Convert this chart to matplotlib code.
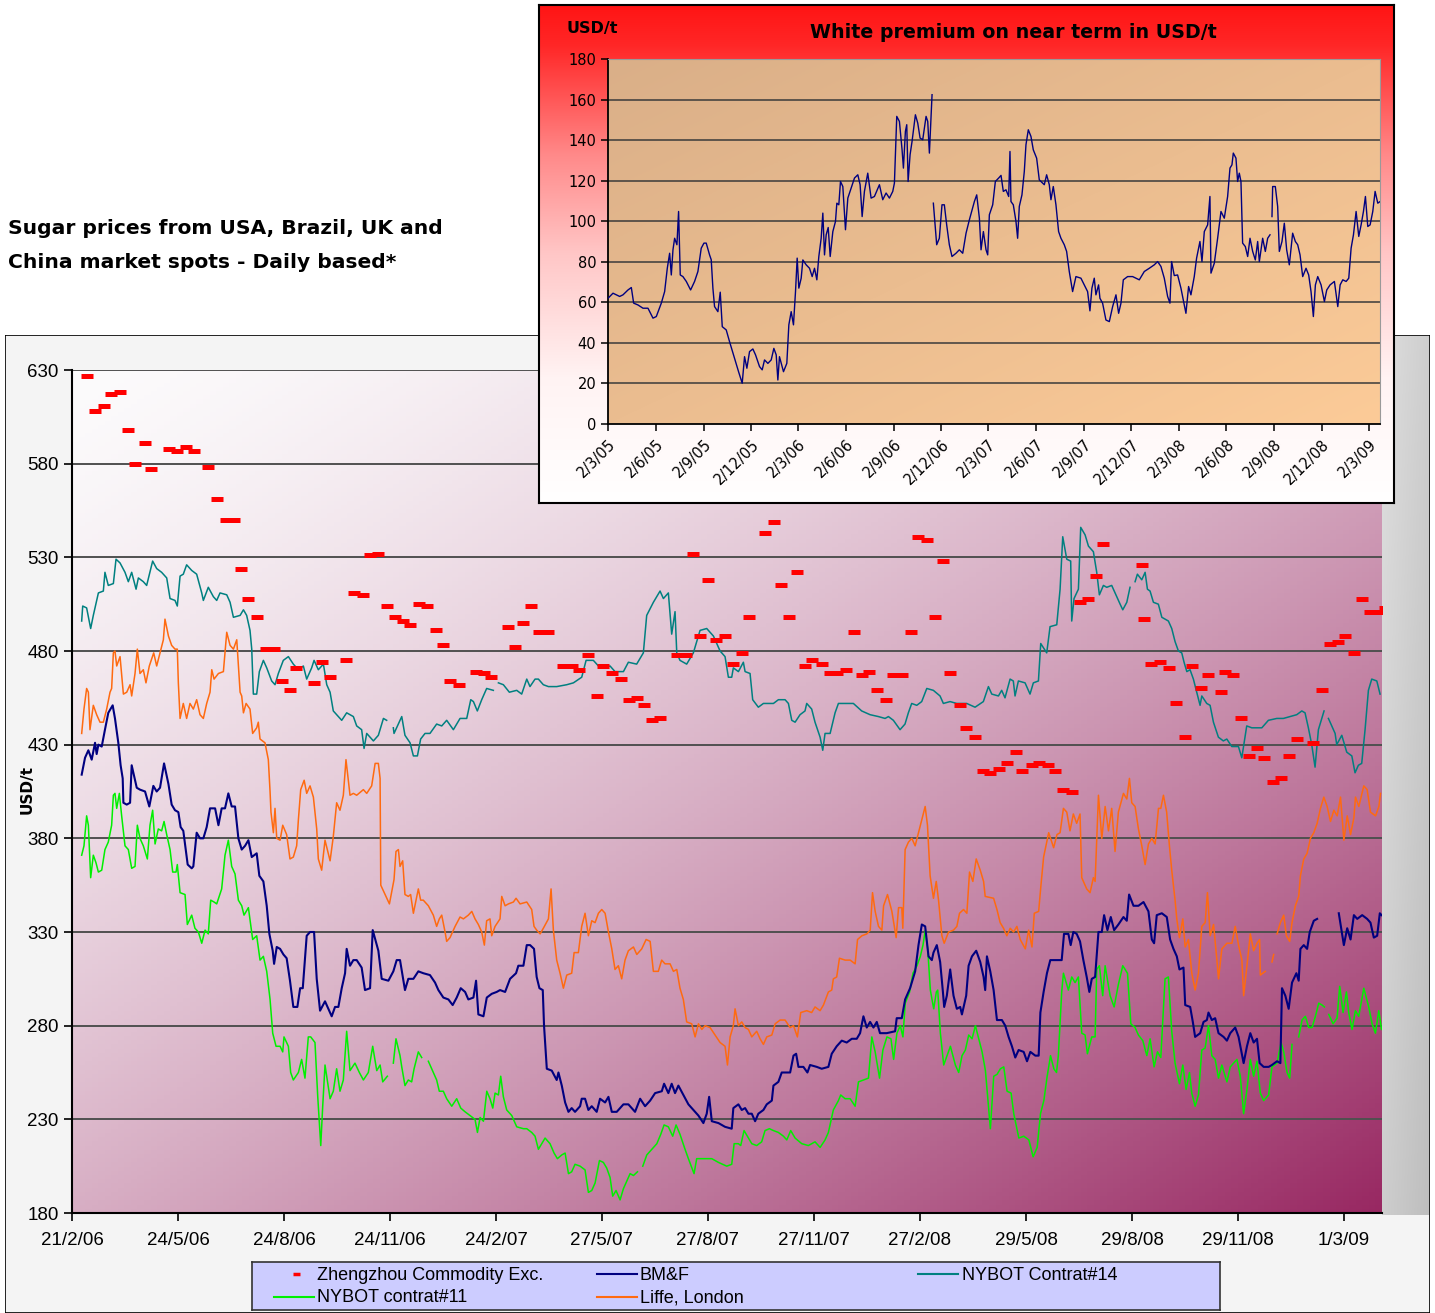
import numpy as np
import matplotlib
matplotlib.use("Agg")
import matplotlib.pyplot as plt
from matplotlib.patches import Rectangle
from datetime import date

nan = float("nan")
W, H = 1435, 1313

# ---------------- main chart data (x = days since 21/2/06, y = USD/t) ----------------
main_tick_labels = ["21/2/06", "24/5/06", "24/8/06", "24/11/06", "24/2/07", "27/5/07", "27/8/07",
                    "27/11/07", "27/2/08", "29/5/08", "29/8/08", "29/11/08", "1/3/09"]
y_ticks = [180, 230, 280, 330, 380, 430, 480, 530, 580, 630]

zhengzhou = [(13, 627), (20, 608), (27.5, 611), (34, 617), (41.7, 618), (49, 598), (55, 580), (63, 591),
             (69, 577), (84, 588), (91, 587), (99, 589), (106, 587), (118, 578), (126, 561), (134, 550),
             (140.6, 550), (147, 524), (153, 508), (161, 498), (168, 481), (175.6, 481), (182, 464),
             (189, 459), (194.7, 471), (210, 463), (217, 474), (224, 466), (238, 475), (244.5, 511),
             (253, 510), (258.7, 531), (266, 532), (273, 504), (280.4, 498), (287, 496), (293.4, 494),
             (301.5, 505), (308, 504), (316, 491), (321.7, 483), (328.4, 464), (336, 462), (350.7, 469),
             (358, 468), (364, 466), (378.4, 493), (384.5, 482), (391.8, 495), (398.7, 504), (405.6, 490),
             (413, 490), (426.5, 472), (433.7, 472), (440.4, 470), (447.6, 478), (455.4, 456), (461.2, 472),
             (468.4, 468), (476.5, 465), (483.8, 454), (490.1, 455), (496.5, 451), (503.7, 443), (510.4, 444),
             (525.4, 478), (533, 478), (539, 532), (545.1, 488), (552.3, 518), (559, 486), (566.8, 488),
             (574, 473), (581.3, 479), (587.6, 498), (601.5, 543), (609.3, 549), (615.1, 515), (622.4, 498),
             (629, 522), (636.2, 472), (642, 475), (651.3, 473), (658, 468), (664.3, 468), (671.6, 470),
             (679, 490), (685.4, 467), (692.1, 469), (699, 459), (706.3, 454), (712.9, 467), (720.2, 467),
             (728, 490), (734.1, 541), (741.9, 539), (749.1, 498), (756, 528), (761.8, 468), (770.5, 451),
             (775.7, 439), (784.1, 434), (791, 416), (797.1, 415), (804.9, 417), (811.9, 420), (819.1, 426),
             (824.9, 416), (833, 419), (839.6, 420), (847.4, 419), (853.3, 416), (860.5, 406), (867.7, 405),
             (875, 506), (881.6, 508), (888.5, 520), (894.6, 537), (928.8, 526), (930.8, 497), (936.9, 473),
             (944.4, 474), (951.9, 471), (958.6, 452), (965.8, 434), (972.4, 472), (980, 460), (986.3, 467),
             (997.6, 458), (1000.8, 469), (1007.5, 467), (1014.7, 444), (1021.6, 424), (1028.6, 428),
             (1034.4, 423), (1042.5, 410), (1049.7, 412), (1056.4, 424), (1063.6, 433), (1077.5, 431),
             (1084.7, 459), (1091.9, 484), (1098.9, 485), (1105.3, 488), (1112.5, 479), (1119.4, 508),
             (1126.7, 501), (1133.9, 501), (1139.7, 503)]

bmf = [(8.4, 414), (11.3, 423), (14.2, 427), (17.1, 422), (20, 431), (21.4, 425), (22.9, 430), (25.8, 429),
       (28.6, 438), (31.5, 447), (35.3, 451), (37.3, 444), (40.2, 431), (42.2, 419), (44, 412), (44.6, 399),
       (47.5, 398), (50.4, 399), (51.8, 419), (56.2, 407), (59, 406), (63.4, 405), (67.1, 397), (70.6, 408),
       (73.5, 405), (76.4, 407), (79.9, 420), (83.7, 409), (86.5, 398), (89.4, 395), (92.3, 394), (94.3, 386),
       (96.6, 384), (100.4, 366), (103.9, 364), (105.3, 365), (108.2, 383), (111.1, 380), (114, 380),
       (116.9, 386), (119.8, 396), (124.2, 396), (127.1, 387), (129.9, 396), (132.8, 396), (135.7, 404),
       (138.6, 397), (141.5, 397), (144.4, 380), (147.3, 374), (150.2, 376), (153.1, 379), (156, 370),
       (160.3, 372), (162.6, 360), (166.1, 357), (169, 344), (171.3, 329), (174.2, 320), (175.4, 313),
       (177.7, 322), (180.6, 321), (183.5, 318), (186.3, 316), (189.2, 304), (192.1, 290), (195.6, 290),
       (198, 300), (200.3, 300), (203.7, 328), (206.6, 330), (210.1, 330), (212.4, 305), (215.3, 288),
       (219.6, 293), (222.5, 289), (225.4, 285), (228.3, 290), (231.2, 290), (234.1, 300), (237, 308),
       (238.4, 321), (241.3, 312), (244.2, 315), (247.1, 315), (251.4, 311), (254.3, 299), (258.7, 300),
       (261, 331), (265.9, 320), (268.8, 305), (274.6, 304), (278.9, 309), (281.8, 315), (284.7, 315),
       (289, 299), (291.9, 305), (296.3, 305), (300.6, 309), (304.9, 308), (310.7, 307), (315.1, 303),
       (318, 299), (322.3, 295), (326.7, 294), (330.4, 291), (333.9, 295), (337.4, 300), (341.2, 298),
       (344, 294), (348.4, 295), (350.7, 304), (352.7, 286), (357.1, 285), (360, 295), (364.3, 297),
       (368.6, 298), (371.5, 299), (375.9, 298), (380.2, 305), (385.4, 308), (387.4, 312), (391.8, 312),
       (394.7, 323), (397.6, 323), (401, 321), (403.3, 306), (405.7, 300), (408.6, 299), (409.7, 280),
       (412.1, 257), (416.4, 256), (420.7, 251), (422.2, 255), (425.1, 248), (428, 239), (430.9, 234),
       (433.7, 236), (436.6, 234), (441, 237), (442.4, 241), (445.3, 241), (448.2, 235), (451.1, 237),
       (455.4, 234), (458.3, 241), (462.7, 239), (465.6, 242), (468.5, 234), (472.8, 234), (478.6, 238),
       (482.9, 238), (488.7, 234), (493.1, 241), (497.4, 237), (501.8, 240), (506.1, 244), (511.9, 245),
       (513.9, 249), (517.6, 244), (520.5, 249), (523.4, 244), (526.3, 248), (530.6, 243), (535, 238),
       (539.3, 235), (543.7, 232), (548, 228), (550.9, 233), (553, 242), (555.3, 229), (561.1, 228),
       (566.8, 226), (572.6, 225), (574, 236), (578.4, 238), (581.3, 235), (584.2, 236), (587.1, 233),
       (590, 233), (592.9, 229), (595.7, 233), (600.1, 235), (603, 238), (607.4, 240), (608.8, 248),
       (613.1, 250), (616, 255), (623.3, 255), (626.2, 264), (628.5, 265), (630.5, 258), (634.8, 258),
       (638.3, 255), (640.6, 259), (646.4, 258), (650.7, 257), (656.5, 258), (659.4, 265), (663.7, 269),
       (668.1, 272), (672.4, 271), (676.8, 273), (681.1, 273), (684, 276), (686.9, 285), (689.8, 279),
       (692.7, 282), (695.6, 279), (698.5, 282), (701.3, 276), (707.1, 276), (714.4, 277), (715.8, 284),
       (720.2, 284), (723.1, 294), (727.4, 300), (731.8, 309), (734.7, 323), (737.6, 334), (740.5, 333),
       (743.4, 317), (746.3, 315), (747.7, 319), (750.6, 323), (753.5, 314), (755.9, 298), (757, 290),
       (759.3, 296), (762.2, 310), (765.1, 296), (768, 289), (770.9, 290), (772.4, 286), (776.1, 296),
       (778.2, 312), (781.1, 317), (784.8, 320), (788.3, 314), (791.2, 306), (792.6, 299), (794.1, 317),
       (797, 309), (799.9, 299), (802.8, 283), (807.1, 283), (810, 280), (812.9, 274), (815.8, 269),
       (818.7, 263), (821.6, 267), (826, 266), (828.9, 261), (831.8, 266), (836.1, 264), (839, 264),
       (840.5, 287), (843.3, 298), (846.2, 308), (849.1, 315), (853.5, 315), (859, 315), (861, 329),
       (864.8, 329), (866.8, 323), (869.1, 330), (872, 329), (874.9, 325), (877.8, 315), (880.7, 306),
       (883, 298), (885.1, 305), (888, 306), (890.9, 330), (893.8, 330), (895.8, 339), (898.7, 331),
       (901.6, 338), (904.5, 331), (908.2, 334), (912.6, 338), (915.5, 336), (917.5, 350), (921.3, 344),
       (925.6, 344), (930, 346), (934.3, 341), (937.2, 326), (939.2, 324), (941.5, 339), (945.9, 340),
       (950.2, 338), (953.1, 326), (956, 321), (958.9, 317), (961.2, 310), (964.7, 311), (966.2, 291),
       (970.5, 290), (972.8, 282), (974.8, 274), (979.2, 276), (982.1, 282), (985, 283), (986.4, 287),
       (989.3, 283), (992.2, 284), (995.1, 276), (999.5, 274), (1002.4, 272), (1005.3, 276), (1009.6, 279),
       (1012.5, 274), (1016.9, 260), (1019.8, 269), (1022.7, 276), (1025.6, 271), (1028.5, 273),
       (1030.8, 260), (1034.3, 258), (1038.6, 258), (1041.5, 259), (1045.9, 261), (1048.8, 260),
       (1050.2, 300), (1053.1, 296), (1056, 289), (1058.9, 303), (1062.7, 308), (1064.7, 304), (1066.2, 321),
       (1069.1, 323), (1072, 321), (1074.3, 330), (1077.8, 336), (1080.7, 337), (1090, nan), (1099.5, 340),
       (1103.9, 323), (1106.8, 332), (1109.7, 326), (1112.6, 339), (1115.5, 337), (1119.8, 339),
       (1124.1, 337), (1127, 335), (1129.9, 327), (1132.8, 328), (1135.1, 340), (1136.6, 339)]

nybot14 = [(8.4, 496), (9.3, 504), (12.7, 503), (16.2, 492), (18.5, 499), (22.9, 511), (27.2, 512),
           (28.6, 522), (31.5, 515), (35.9, 516), (38.2, 529), (41.7, 527), (46, 522), (48.9, 517),
           (51.8, 522), (55.6, 513), (57.6, 519), (61.9, 517), (64.8, 515), (70, 528), (73.5, 524),
           (77.8, 522), (82.2, 519), (85.1, 508), (89.4, 507), (91.4, 504), (93.8, 520), (96.6, 521),
           (99.5, 526), (103.9, 523), (108.2, 521), (112.6, 511), (114, 507), (118.3, 514), (122.7, 509),
           (125.6, 507), (128.5, 511), (134.3, 510), (137.2, 506), (140.1, 498), (145.9, 499), (148.8, 502),
           (151.6, 499), (154.5, 491), (156, 481), (157.4, 457), (160.3, 457), (162.6, 469), (166.1, 475),
           (169, 471), (173.3, 464), (176.2, 462), (179.1, 468), (183.4, 475), (187.8, 477), (192.1, 473),
           (196.5, 470), (200.8, 472), (203.7, 465), (208, 471), (210.1, 475), (213.8, 470), (218.2, 473),
           (221.1, 462), (224, 458), (226.8, 448), (231.2, 445), (234.1, 443), (238.4, 447), (244.2, 445),
           (247.1, 440), (251.4, 438), (253.5, 428), (255.8, 436), (261.6, 432), (265.9, 435), (270.3, 444),
           (273.1, 443), (276, nan), (278.9, 439), (279.5, 436), (286.2, 445), (289, 435), (293.4, 431),
           (296.3, 424), (299.8, 424), (302.6, 433), (306.4, 436), (310.7, 436), (316.5, 441), (320.9, 440),
           (325.2, 443), (331, 438), (336.8, 444), (342.6, 444), (346.1, 454), (348.4, 453), (351.8, 448),
           (355.6, 454), (359.9, 460), (365.7, 459), (368, nan), (370.1, 463), (374.4, 462), (379.6, 458),
           (386, 459), (390.3, 457), (394.7, 465), (397.5, 461), (401.9, 465), (404.8, 465), (409.1, 462),
           (413.5, 461), (420.7, 461), (429.4, 462), (435.2, 463), (442.4, 466), (446.2, 475), (452.5, 475),
           (456.9, 472), (461.2, 471), (467, 472), (471.3, 469), (478.6, 469), (482.9, 474), (490.1, 473),
           (495.9, 479), (498.8, 499), (504.6, 506), (510.4, 512), (513.3, 508), (517.6, 511), (520.5, 489),
           (523.4, 501), (524.9, 479), (527.7, 475), (533.5, 473), (539.3, 479), (545.1, 491), (550.9, 492),
           (556.7, 488), (562.5, 480), (566.8, 477), (569.7, 466), (572.6, 466), (574, 471), (578.4, 469),
           (582.7, 474), (584.2, 469), (588.5, 468), (590.8, 454), (595.7, 450), (600.1, 452), (604.4, 452),
           (608.8, 452), (613.1, 454), (618.9, 454), (621.8, 452), (624.7, 443), (627.6, 442), (631.9, 446),
           (636.2, 448), (637.7, 452), (642, 449), (644.9, 442), (649.3, 434), (651.6, 427), (653.6, 436),
           (658, 436), (662.3, 447), (665.2, 452), (671, 452), (678.2, 452), (685.4, 448), (692.7, 446),
           (699.9, 445), (705.7, 444), (708.6, 445), (712.9, 443), (718.7, 438), (723, 441), (725.9, 447),
           (728.8, 452), (733.2, 451), (737.5, 453), (741.9, 460), (747.6, 459), (753.4, 456), (756.3, 452),
           (762.1, 453), (767.9, 452), (776.6, 452), (783.8, 450), (791, 453), (795.4, 461), (798.3, 457),
           (804.1, 456), (806.9, 459), (809.8, 455), (814.2, 465), (817, 464), (818.5, 456), (821.4, 464),
           (827.2, 463), (831.5, 457), (834.4, 463), (838.8, 464), (840.8, 484), (846, 479), (848.9, 493),
           (854.7, 494), (857.6, 513), (859.9, 541), (863.4, 529), (866.8, 528), (867.7, 496), (869.7, 508),
           (873.5, 513), (875.5, 546), (879.3, 542), (882.2, 536), (886.5, 533), (889.4, 522), (891.7, 510),
           (895.2, 515), (898.1, 514), (902.4, 515), (905.3, 511), (909.7, 505), (912, 502), (915.5, 506),
           (918.3, 514), (920.5, nan), (922.7, 517), (924.7, 521), (928.5, 518), (931.4, 522), (933.4, 513),
           (935.7, 512), (938.6, 506), (942.9, 505), (945.9, 498), (948.7, 497), (951.6, 496), (954.5, 492),
           (957.4, 485), (960.3, 480), (963.2, 479), (965.2, 474), (967.6, 469), (970.4, 470), (973.3, 465),
           (976.2, 458), (979.1, 451), (980.6, 456), (984.9, 452), (987.8, 451), (990.7, 442), (995, 434),
           (999.3, 432), (1002.3, 433), (1006.6, 429), (1012.4, 429), (1015.3, 423), (1019.6, 440),
           (1024, 439), (1032.7, 439), (1038.4, 443), (1045.7, 444), (1051.4, 444), (1057.2, 445),
           (1063, 446), (1067.4, 448), (1070.2, 447), (1073.1, 439), (1076, 430), (1078.9, 418),
           (1081.8, 438), (1084.7, 444), (1086.7, 448), (1088.5, nan), (1090.5, 444), (1096.3, 436),
           (1097.7, 430), (1102.1, 435), (1106.4, 426), (1110.8, 424), (1113.6, 415), (1116.5, 419),
           (1119.4, 420), (1122.3, 438), (1125.2, 459), (1128.1, 465), (1132.5, 464), (1135.3, 457)]

nybot11 = [(8.4, 371), (10.4, 376), (12.7, 392), (14.2, 387), (16.2, 359), (18.5, 371), (20.8, 367),
           (22.9, 362), (25.8, 363), (28.6, 374), (31.5, 378), (34.4, 387), (35.9, 403), (37.3, 404),
           (38.8, 396), (41.1, 404), (43.1, 392), (46, 376), (48.9, 374), (51.8, 364), (54.7, 365),
           (56.7, 387), (59, 380), (61.9, 376), (65.4, 369), (67.7, 387), (70, 395), (72.1, 377), (74.9, 385),
           (77.8, 384), (79.9, 389), (82.2, 382), (85.1, 374), (87.4, 362), (90.3, 362), (91.4, 366),
           (93.8, 351), (98.1, 350), (100.1, 334), (103.9, 339), (106.7, 332), (109.7, 330), (112.6, 324),
           (115.5, 331), (118.3, 329), (120.4, 347), (123.3, 346), (125.6, 345), (129.9, 353), (132.8, 371),
           (135.7, 379), (138.6, 365), (141.5, 361), (144.4, 347), (147.3, 344), (149.3, 339), (153.1, 343),
           (156.8, 326), (160.3, 328), (163.2, 315), (166.1, 317), (169, 309), (171.9, 294), (174.2, 276),
           (177.1, 269), (180.6, 269), (182.9, 266), (184, 274), (187.8, 269), (189.8, 255), (192.1, 251),
           (196.5, 255), (199.3, 262), (202.2, 252), (205.1, 274), (207.2, 274), (210.9, 271), (213.3, 242),
           (215.9, 216), (217.6, 237), (219.6, 259), (224, 241), (226.8, 245), (229.7, 257), (232.6, 245),
           (235.5, 251), (238.4, 277), (241.3, 256), (245.6, 260), (249.4, 255), (252.9, 251), (257.2, 255),
           (261, 269), (264.5, 256), (267.4, 259), (269.7, 250), (273.7, 253), (276, nan), (278.9, 260),
           (281.2, 273), (284.7, 264), (286.2, 258), (289, 248), (291.9, 251), (294.8, 250), (296.9, 257),
           (300.6, 266), (303.5, 263), (305.5, nan), (309.3, 261), (313.6, 255), (316.5, 251), (318.8, 245),
           (322.3, 245), (325.2, 241), (329.6, 237), (333.9, 241), (337.4, 236), (341.2, 234), (345.5, 232),
           (349.8, 230), (351.9, 223), (354.2, 231), (357.1, 229), (360, 245), (362.8, 241), (365.2, 236),
           (367.2, 244), (370.1, 243), (372.1, 253), (374.4, 242), (377.3, 235), (381.7, 232), (386, 226),
           (391.8, 225), (394.7, 225), (399, 223), (401.9, 221), (404.8, 214), (407.7, 217), (410.6, 220),
           (414.9, 217), (418.4, 212), (421.3, 209), (425.1, 211), (428, 212), (430.9, 201), (433.7, 202),
           (436.6, 206), (441, 205), (445.3, 203), (448.2, 191), (451.1, 192), (454, 196), (457.8, 208),
           (461.2, 207), (464.1, 204), (467, 199), (469.3, 189), (472.2, 192), (475.7, 187), (478.6, 193),
           (481.5, 197), (484.4, 201), (487.3, 200), (490.8, 202), (492.5, nan), (495.4, 205), (498.9, 211),
           (503.2, 214), (507.6, 217), (511, 222), (513.9, 227), (517.6, 226), (521.4, 221), (524.3, 227),
           (527.7, 222), (532.1, 214), (535, 209), (539.9, 201), (542.2, 209), (546.6, 209), (550.9, 209),
           (555.3, 209), (561.1, 207), (568.3, 205), (572.6, 206), (574.7, 217), (578.4, 217), (580.4, 216),
           (583.3, 224), (587.1, 220), (590, 217), (594.3, 216), (598.6, 218), (601.5, 224), (605.3, 225),
           (608.8, 224), (613.1, 223), (617.5, 221), (620.4, 219), (623.8, 224), (627.6, 220), (633.4, 217),
           (639.1, 216), (644.9, 218), (649.3, 215), (653.6, 219), (656.5, 223), (660.8, 235), (665.2, 240),
           (667.2, 243), (671, 241), (675.4, 241), (679.7, 237), (682.6, 250), (687, 251), (691.3, 252),
           (694.2, 274), (697.1, 266), (700.9, 252), (703.8, 267), (707.3, 274), (710.8, 273), (713.1, 262),
           (716, 276), (718.9, 280), (721.2, 274), (723.2, 292), (727, 298), (729.9, 308), (733.4, 312),
           (736.3, 317), (738.6, 323), (740.6, 331), (742.7, 321), (745, 299), (747.9, 289), (750.2, 298),
           (751.4, 299), (753.7, 276), (756.6, 259), (759.5, 264), (762.4, 269), (766.7, 259), (769.6, 255),
           (772.5, 264), (775.4, 267), (778.3, 275), (781.2, 273), (784.1, 280), (787, 273), (789.9, 266),
           (792.8, 256), (797.1, 225), (800, 253), (802.9, 254), (805.8, 257), (808.7, 258), (811.6, 245),
           (815.1, 244), (817.4, 233), (821.8, 220), (826.1, 221), (830.5, 219), (834.2, 210), (837.7, 215),
           (840.6, 233), (843.5, 240), (846.4, 253), (849.3, 264), (852.2, 257), (854.5, 255), (856.1, 264),
           (859, 298), (860.5, 308), (864.8, 299), (867.7, 306), (870.6, 303), (873.5, 306), (876.4, 276),
           (879.3, 275), (881.3, 265), (885.1, 274), (888, 274), (889.4, 310), (891.7, 312), (894.6, 296),
           (896.7, 312), (901, 296), (904.5, 290), (908.2, 302), (912, 312), (916.1, 308), (919, 281),
           (922.7, 279), (925.6, 275), (929.4, 272), (932.9, 264), (935.7, 273), (939.2, 258), (942.1, 266),
           (945, 263), (948.7, 305), (951.6, 306), (954.5, 277), (957.4, 260), (961.2, 249), (964.1, 259),
           (967, 246), (969.9, 255), (971.9, 244), (974.8, 237), (977.7, 243), (980.6, 267), (983.5, 268),
           (986.4, 280), (989.3, 264), (992.2, 262), (995.1, 252), (998, 259), (1002.4, 250), (1005.3, 258),
           (1008.2, 260), (1011.1, 262), (1014, 253), (1016.9, 233), (1019.8, 246), (1022.7, 262), (1025.6, 253),
           (1028.5, 261), (1031.4, 244), (1034.3, 240), (1038.6, 243), (1041.5, 258), (1045.9, 260),
           (1049.4, 271), (1051.7, 266), (1054.6, 255), (1056.9, 252), (1058.9, 270), (1061.5, nan),
           (1064.7, 274), (1067.6, 283), (1070.5, 285), (1073.4, 279), (1076.3, 279), (1079.2, 285),
           (1082.1, 292), (1085, 291), (1087, 290), (1088.5, nan), (1090.8, 286), (1094.5, 281), (1098, 284),
           (1100.3, 301), (1103.2, 287), (1106.1, 298), (1108.1, 287), (1111, 278), (1113.9, 288), (1116.8, 285),
           (1121.2, 300), (1125.5, 290), (1128.4, 281), (1131.3, 276), (1134.2, 288), (1136.6, 278)]

liffe = [(8.4, 436), (10.4, 449), (12.7, 460), (14.2, 458), (15.6, 438), (18.5, 451), (21.4, 446), (24.3, 442),
         (27.2, 442), (30.1, 449), (33, 458), (34.4, 460), (35.9, 479), (37.3, 480), (38.8, 472), (41.7, 477),
         (44.6, 457), (47.5, 458), (50.4, 462), (51.8, 456), (54.7, 468), (56.7, 481), (59, 468), (61.9, 470),
         (64.2, 463), (67.1, 472), (70.9, 479), (73.5, 472), (76.4, 479), (79.3, 486), (80.7, 497), (83.7, 488),
         (86.5, 483), (89.4, 481), (91.4, 481), (92.3, 463), (93.8, 444), (96.6, 452), (99.5, 444), (102.4, 452),
         (105.3, 449), (108.2, 454), (111.1, 446), (114, 444), (116.9, 452), (119.8, 458), (121.3, 470),
         (123.3, 465), (127.1, 468), (131.4, 469), (134.3, 490), (137.2, 483), (140.1, 481), (143, 486),
         (145.9, 458), (147.3, 456), (148.8, 447), (151.1, 452), (154.5, 449), (156.8, 436), (160.3, 439),
         (161.7, 442), (163.2, 433), (167.5, 431), (170.4, 422), (171.9, 405), (172.7, 394), (174.8, 383),
         (176.2, 396), (177.7, 380), (180.6, 379), (182.9, 387), (186.3, 382), (189.2, 369), (192.1, 370),
         (195, 376), (196.5, 390), (198.5, 406), (201.5, 411), (203.7, 404), (206.6, 408), (209.5, 402),
         (212.4, 385), (213.8, 369), (216.7, 363), (219.6, 379), (224, 368), (226.8, 381), (229.7, 399),
         (232.6, 395), (235.5, 403), (237.8, 422), (241.3, 403), (244.2, 404), (247.1, 403), (252.9, 406),
         (255.8, 404), (260.1, 408), (263.1, 420), (265.9, 420), (267.4, 412), (268, 355), (271.7, 350),
         (275.5, 345), (279.5, 358), (281.2, 373), (283.3, 374), (284.7, 365), (287, 368), (289, 350),
         (291.9, 349), (293.9, 350), (296.3, 340), (298.6, 347), (300.6, 353), (302.6, 347), (304.9, 347),
         (309.3, 344), (313.6, 339), (316.5, 333), (318.8, 337), (320.9, 339), (323.8, 330), (325.2, 325),
         (328.1, 327), (332.5, 333), (336.8, 338), (339.7, 337), (344, 339), (347, 341), (349.8, 337),
         (352.7, 334), (355.6, 330), (357.9, 323), (359.9, 336), (362.8, 337), (364.3, 328), (367.2, 333),
         (371.5, 337), (373, 349), (375.9, 344), (378.8, 345), (383.1, 346), (385.4, 348), (388.9, 345),
         (394.7, 346), (399, 342), (401, 333), (403.3, 331), (406.3, 329), (409.1, 332), (413.5, 337),
         (415.8, 353), (417.8, 331), (420.7, 315), (423.6, 308), (426.5, 300), (429.4, 307), (433.7, 308),
         (435.8, 319), (439.5, 319), (442.4, 333), (445.3, 340), (448.2, 328), (451.1, 336), (454, 335),
         (456.9, 340), (459.8, 342), (462.7, 340), (465.6, 330), (468.5, 321), (471.3, 310), (474.2, 312),
         (477.1, 305), (480, 315), (482.9, 320), (487.3, 322), (490.2, 318), (494.5, 321), (498.3, 326),
         (501.8, 325), (504.6, 309), (508.9, 309), (511.8, 315), (514.7, 313), (519.1, 313), (522, 309),
         (524.9, 310), (527.7, 300), (530.6, 294), (533.5, 282), (537.9, 281), (540.8, 274), (543.7, 281),
         (546.6, 278), (549.5, 280), (553.8, 279), (558.1, 275), (562.5, 271), (566.8, 269), (568.9, 259),
         (571.2, 274), (574, 280), (575.5, 289), (578.4, 280), (581.3, 282), (584.2, 279), (587.1, 278),
         (590, 274), (594.3, 277), (597.2, 273), (600.1, 270), (603, 274), (607.4, 275), (610.3, 281),
         (614.6, 283), (618.9, 283), (623.3, 279), (626.2, 280), (629.6, 274), (632.5, 287), (637.7, 288),
         (642, 287), (644.9, 290), (649.3, 288), (652.2, 291), (656.5, 298), (659.4, 299), (660.8, 305),
         (663.7, 306), (666.1, 316), (671, 315), (675.4, 315), (679.7, 313), (681.8, 326), (685.6, 328),
         (689.9, 329), (692.8, 331), (694.8, 351), (697.1, 341), (700, 333), (702.9, 331), (704.4, 344),
         (707.8, 350), (711.6, 341), (715.3, 327), (717.4, 343), (720.2, 343), (721.1, 332), (723.1, 374),
         (726, 378), (728.9, 380), (731.8, 376), (734.7, 383), (737.6, 390), (740.5, 397), (742.5, 387),
         (744.8, 360), (747.7, 348), (750.1, 357), (752.1, 347), (755, 328), (757, 324), (760.8, 330),
         (765.1, 331), (768, 333), (770.3, 340), (773.8, 342), (776.7, 340), (779, 362), (781.9, 357),
         (784.8, 369), (788.3, 363), (791.2, 357), (792.6, 349), (799.9, 348), (802.8, 342), (805.6, 335),
         (808.5, 332), (811.4, 328), (814.3, 332), (817.2, 330), (820.1, 333), (823, 326), (827.4, 321),
         (830.3, 331), (833.2, 322), (835.2, 340), (839, 341), (841, 355), (843.3, 370), (847.7, 383),
         (852, 375), (854.9, 382), (857.6, 383), (860.5, 396), (863.4, 394), (866.2, 384), (869.1, 393),
         (872, 388), (874.9, 393), (876.4, 359), (880.7, 353), (883.6, 351), (886.5, 359), (888, 357),
         (890.9, 403), (893.8, 380), (896.7, 397), (899.6, 384), (902.4, 396), (905.3, 373), (908.2, 394),
         (912.6, 404), (915.5, 401), (917.8, 412), (919.8, 399), (922.7, 397), (925.6, 385), (928.5, 376),
         (931.4, 366), (934.3, 377), (937.2, 380), (940.1, 377), (943, 396), (945, 396), (947.3, 403),
         (950.1, 394), (952.5, 376), (954.5, 363), (957.4, 347), (958.9, 337), (961.2, 327), (964.1, 337),
         (966.2, 322), (969, 326), (971.9, 308), (974.8, 299), (977.7, 308), (980.6, 333), (983.5, 335),
         (985.5, 351), (987.9, 328), (990.8, 334), (993.7, 315), (995.1, 305), (998, 321), (1002.4, 324),
         (1006.7, 324), (1009.6, 333), (1012.5, 323), (1015.4, 315), (1016.9, 296), (1019.8, 312),
         (1022.7, 329), (1025.6, 320), (1028.5, 324), (1030.8, 326), (1031.4, 307), (1035.7, 309),
         (1038, nan), (1041.5, 314), (1043, 318), (1045, nan), (1045.9, 329), (1048.8, 335), (1051.7, 339),
         (1054, 328), (1056.9, 325), (1058.9, 335), (1061.8, 344), (1064.7, 349), (1066.2, 360), (1069.1, 369),
         (1072, 372), (1074.9, 380), (1077.8, 383), (1080.7, 388), (1083.6, 396), (1086.5, 402), (1089.4, 397),
         (1092.3, 389), (1095.2, 395), (1098.1, 392), (1101, 402), (1103.9, 379), (1106.8, 392), (1109.7, 382),
         (1112.6, 391), (1114, 402), (1116.9, 397), (1121.2, 408), (1124.1, 406), (1127, 394), (1131.4, 392),
         (1134.3, 397), (1135.7, 404)]

# ---------------- inset data (x = days since 2/3/05, y = USD/t) ----------------
inset_tick_dates = [(2005, 3), (2005, 6), (2005, 9), (2005, 12), (2006, 3), (2006, 6), (2006, 9), (2006, 12),
                    (2007, 3), (2007, 6), (2007, 9), (2007, 12), (2008, 3), (2008, 6), (2008, 9), (2008, 12),
                    (2009, 3)]
inset_y_ticks = [0, 20, 40, 60, 80, 100, 120, 140, 160, 180]

white_premium = [
    (0, 62), (9.6, 64.5), (22.4, 62.9), (28.8, 63.7), (38.4, 66.1), (44.8, 67.3), (49.3, 59.6), (57.6, 58.7),
    (67.2, 57.1), (76.8, 57.1), (86.4, 52.2), (92.8, 53), (102.4, 59.6), (108.8, 65.3), (113.9, 76.8),
    (118.4, 84.2), (121.6, 73.5), (124.8, 85.9), (128, 91.6), (132.4, 88.4), (135.6, 104.8), (138.8, 73.5),
    (143.9, 72.7), (150.4, 70.3), (158.7, 66.1), (166.3, 70.3), (172.7, 75.2), (179.1, 86.7), (184.3, 89.2),
    (188.7, 89.2), (195.1, 83.4), (198.3, 81), (201.5, 67), (204.7, 57.9), (211.1, 55.4), (215.6, 65),
    (219.5, 48), (227.1, 46.4), (233.5, 40.6), (243.1, 32.4), (250.8, 25.8), (257.8, 20.1), (262.3, 33.2),
    (266.8, 27.5), (271.9, 35.7), (278.3, 37), (283.4, 34.1), (291.1, 28.3), (296.2, 26.7), (300.7, 31.6),
    (307.1, 29.9), (313.5, 31.6), (318.6, 37.3), (323.1, 34.1), (326.3, 21.7), (329.4, 33.2), (337.1, 25.8),
    (343.5, 29.9), (347.4, 48.9), (351.9, 55.4), (356.3, 48.9), (360.2, 65.3), (363.4, 81.8), (366.6, 67),
    (371.1, 71.9), (374.3, 80.9), (380.7, 78.5), (387.1, 76.8), (392.2, 72.7), (396.7, 76.8), (401.2, 71.1),
    (405, 82.6), (409.5, 91.6), (412.7, 104), (415.9, 83.4), (419.1, 93.3), (423, 96.9), (426.8, 82.6),
    (431.9, 94.9), (437, 99.9), (439.6, 108.9), (443.4, 108.1), (446.6, 119.6), (451.1, 117.1), (456.2, 95.8),
    (460.7, 111.4), (467.1, 116.3), (473.5, 121.3), (479.9, 122.9), (484.3, 118), (488.2, 102.3),
    (492.6, 114.7), (499, 123.7), (505.4, 111.4), (511.8, 112.2), (521.4, 118), (527.8, 110.6), (534.2, 113.9),
    (540.6, 111.4), (547, 114.7), (550.2, 118.8), (554.7, 151.7), (559.8, 149.2), (564.9, 135.2),
    (567.5, 126.2), (571.3, 144.3), (573.9, 147.6), (576.5, 119.6), (580.3, 132.8), (584.1, 139.4),
    (590.5, 152.5), (595, 148.4), (599.5, 141), (604.6, 140.2), (611, 151.7), (614.2, 149.2), (617.4, 133.6),
    (622.5, 162.4), (623.5, nan), (625, 108.9), (631.4, 88.4), (636.5, 91.6), (641.6, 108.1), (646.1, 108.1),
    (650.6, 98.2), (655.7, 88.4), (660.8, 82.6), (668.5, 84.2), (674.9, 85.9), (681.4, 84.2), (687.8, 94.1),
    (694.2, 100.7), (703.8, 109.7), (708.3, 113), (713.4, 101.5), (716.6, 85.9), (721.1, 94.9), (726.2, 85.9),
    (729.4, 83.4), (732.6, 103.2), (739, 108.1), (744.1, 119.6), (750.5, 121.3), (755, 122.6), (759.4, 114.7),
    (764.5, 115.5), (769.7, 112.2), (772.2, 134.4), (774.1, 109.7), (778.6, 108.1), (783.7, 99.9),
    (786.9, 91.6), (790.1, 107.3), (795.2, 113), (799.7, 124.5), (802.9, 137.7), (807.4, 145.1),
    (812.5, 141.8), (817, 135.2), (823.4, 131.1), (828.5, 120.4), (838.1, 118), (842.6, 122.9), (847.7, 118),
    (850.9, 110.6), (855.4, 117.1), (860.5, 108.1), (865.6, 94.9), (870.1, 91.6), (876.5, 88.4), (881, 85.1),
    (886.1, 75.2), (892.5, 65.3), (898.9, 72.7), (908.5, 71.9), (914.9, 68.6), (921.3, 65.3), (925.8, 55.8),
    (929.6, 67), (934.1, 71.9), (937.3, 63.7), (942.4, 68.6), (945, 62), (950.1, 59.6), (956.5, 51.3),
    (963, 50.5), (969.4, 57.9), (975.8, 63.7), (980.9, 54.6), (985.4, 59.6), (989.9, 71.1), (998.2, 72.7),
    (1007.8, 72.7), (1020.6, 71.1), (1030.2, 75.2), (1039.8, 76.8), (1049.4, 78.5), (1055.8, 80.1),
    (1062.2, 77.7), (1068.6, 71.9), (1075, 62.9), (1079.5, 59.6), (1082.7, 80.1), (1087.8, 73.2),
    (1094.2, 73.5), (1100.6, 67), (1105.1, 61.2), (1110.2, 54.6), (1115.3, 67.8), (1119.8, 63.7),
    (1126.2, 72.7), (1130.7, 81.8), (1137.1, 90), (1141, 80.1), (1145.5, 94.9), (1151.9, 98.2),
    (1156.3, 112.2), (1158.3, 74.4), (1164.7, 79.3), (1171.1, 91.6), (1177.5, 104.8), (1183.9, 101.5),
    (1190.3, 112.2), (1194.8, 126.2), (1198.6, 127.8), (1201.2, 133.6), (1206.3, 131.1), (1209.5, 119.6),
    (1212.7, 123.7), (1215.9, 119.6), (1219.1, 89.2), (1224.3, 87.5), (1228.8, 82.6), (1233.3, 91.6),
    (1238.4, 85.1), (1243.5, 80.9), (1248, 90), (1251.2, 80.1), (1257.6, 91.6), (1262.7, 85.1),
    (1267.2, 91.6), (1271.7, 93.3), (1273.5, nan), (1275.5, 102.3), (1276.8, 117.1), (1281.9, 117.1),
    (1286.4, 107.3), (1289.6, 85.1), (1294.7, 90), (1299.2, 99), (1303.7, 85.9), (1308.8, 78.5),
    (1315.2, 94.1), (1320.4, 90), (1324.9, 88.4), (1329.4, 83.4), (1334.5, 72.7), (1340.9, 76.8),
    (1346, 73.5), (1350.5, 65.3), (1355, 53), (1358.9, 68.6), (1363.4, 72.7), (1369.8, 68.6), (1376.2, 60.4),
    (1380.7, 66.1), (1387.1, 68.6), (1395.4, 70.3), (1401.9, 57.9), (1406.4, 68.6), (1411.5, 71.1),
    (1417.9, 70.3), (1423, 71.9), (1427.5, 86.7), (1432, 93.3), (1437.1, 104.8), (1442.2, 92.5),
    (1446.7, 98.2), (1451.2, 104.8), (1455, 112.2), (1459.5, 97.4), (1464, 98.2), (1469.1, 104.8),
    (1473.6, 114.7), (1478.7, 108.9), (1483.2, 109.7)]


def fx(px):
    return px / W


def fy(py):
    return 1 - py / H


def gradient(c0, c1, mode="diag", power=1.0, n=200):
    u = np.linspace(0, 1, n)
    uu, vv = np.meshgrid(u, u)
    if mode == "diag":
        t = (uu + vv) / 2
    else:
        t = vv
    t = t ** power
    c0 = np.array(c0) / 255.0
    c1 = np.array(c1) / 255.0
    return c0 + (c1 - c0) * t[..., None]


fig = plt.figure(figsize=(W / 100, H / 100), dpi=100)
fig.patch.set_facecolor("white")

# chart area of main chart
bg = fig.add_axes([fx(5), 0, fx(1430) - fx(5), fy(335)], zorder=0)
bg.set_axis_off()
bg.add_patch(Rectangle((0, 0), 1, 1, transform=bg.transAxes, facecolor="#f4f4f4",
                       edgecolor="black", linewidth=1.2))
strip = fig.add_axes([fx(1382), fy(1215), fx(1429) - fx(1382), fy(336) - fy(1215)], zorder=0.5)
strip.set_axis_off()
strip.imshow(gradient((222, 222, 222), (190, 190, 190), mode="diag"), extent=[0, 1, 0, 1],
             aspect="auto", transform=strip.transAxes)

# plot area gradient
pos = [fx(72), fy(1213), fx(1382) - fx(72), fy(370) - fy(1213)]
pbg = fig.add_axes(pos, zorder=1)
pbg.set_axis_off()
pbg.imshow(gradient((252, 251, 252), (152, 40, 98), power=1.45), extent=[0, 1, 0, 1],
           aspect="auto", transform=pbg.transAxes)

ax = fig.add_axes(pos, zorder=2)
ax.patch.set_alpha(0)
for v in y_ticks[1:]:
    ax.axhline(v, color="#505050", lw=1.4, zorder=1)

lw_thin = 1.1
d, v = zip(*liffe)
ax.plot(d, v, color="#ff6a10", lw=lw_thin, zorder=3)
d, v = zip(*nybot11)
ax.plot(d, v, color="#00f000", lw=lw_thin, zorder=3)
d, v = zip(*bmf)
ax.plot(d, v, color="#000080", lw=1.5, zorder=4)
d, v = zip(*nybot14)
ax.plot(d, v, color="#008080", lw=lw_thin, zorder=3)
d, v = zip(*zhengzhou)
ax.plot(d, v, ls="none", marker="_", ms=9, mew=3.6, color="#ff0000", zorder=5)

ax.set_xlim(0, 1137)
ax.set_ylim(180, 630)
ax.set_yticks(y_ticks)
ax.set_xticks([92 * i for i in range(len(main_tick_labels))])
ax.set_xticklabels(main_tick_labels)
for s in ["top", "right"]:
    ax.spines[s].set_visible(False)
for s in ["left", "bottom"]:
    ax.spines[s].set_linewidth(1.5)
ax.tick_params(axis="both", direction="out", length=6, width=1.2, labelsize=13.5)
ax.tick_params(axis="x", pad=8)
for lab in ax.get_xticklabels() + ax.get_yticklabels():
    lab.set_fontfamily("Liberation Sans")

fig.text(fx(27), fy(790), "USD/t", rotation=90, ha="center", va="center",
         fontsize=11, fontweight="bold", family="DejaVu Sans")
fig.text(fx(8), fy(229), "Sugar prices from USA, Brazil, UK and", ha="left", va="center",
         fontsize=14.6, fontweight="bold", family="DejaVu Sans")
fig.text(fx(8), fy(263), "China market spots - Daily based*", ha="left", va="center",
         fontsize=14.6, fontweight="bold", family="DejaVu Sans")

# legend
lg = fig.add_axes([fx(252), fy(1310), fx(1220) - fx(252), fy(1262) - fy(1310)], zorder=3)
lg.set_xlim(252, 1220)
lg.set_ylim(1310, 1262)
lg.set_xticks([])
lg.set_yticks([])
lg.set_facecolor("#ccccff")
for s in lg.spines.values():
    s.set_color("#333333")
    s.set_linewidth(1.2)
lg.plot([293, 300], [1274, 1274], color="#ff0000", lw=2.5, solid_capstyle="butt")
lg.plot([597, 637], [1274, 1274], color="#000080", lw=1.5)
lg.plot([918, 958], [1274, 1274], color="#008080", lw=1.5)
lg.plot([274, 314], [1297, 1297], color="#00f000", lw=1.5)
lg.plot([597, 637], [1297, 1297], color="#ff6a10", lw=1.5)
for x, y, s in [(317, 1275, "Zhengzhou Commodity Exc."), (640, 1275, "BM&F"), (962, 1275, "NYBOT Contrat#14"),
                (317, 1298, "NYBOT contrat#11"), (640, 1298, "Liffe, London")]:
    lg.text(x, y, s, ha="left", va="center", fontsize=13, family="Liberation Sans")

# ---------------- inset ----------------
ibg = fig.add_axes([fx(539), fy(503), fx(1394) - fx(539), fy(5) - fy(503)], zorder=4)
ibg.set_xticks([])
ibg.set_yticks([])
vv = np.linspace(0, 1, 300)
wt = np.interp(vv, [0, 0.08, 0.3, 0.5, 0.75, 1.0], [0.0, 0.08, 0.5, 0.76, 0.95, 1.0])
img = np.ones((300, 10, 3))
img[:, :, 1] = (20 + 235 * wt)[:, None] / 255
img[:, :, 2] = (20 + 235 * wt)[:, None] / 255
ibg.imshow(img, extent=[0, 1, 0, 1], aspect="auto", transform=ibg.transAxes)
for s in ibg.spines.values():
    s.set_color("black")
    s.set_linewidth(1.5)

ipos = [fx(608), fy(424), fx(1380) - fx(608), fy(59) - fy(424)]
ipbg = fig.add_axes(ipos, zorder=5)
ipbg.set_axis_off()
ipbg.imshow(gradient((218, 175, 136), (252, 203, 152), power=1.0), extent=[0, 1, 0, 1],
            aspect="auto", transform=ipbg.transAxes)

iax = fig.add_axes(ipos, zorder=6)
iax.patch.set_alpha(0)
for v in inset_y_ticks[1:]:
    iax.axhline(v, color="#3a3a3a", lw=1.1, zorder=1)
d, v = zip(*white_premium)
iax.plot(d, v, color="#000080", lw=1.0, zorder=3)
iax.set_xlim(0, 1483)
iax.set_ylim(0, 180)
iax.set_yticks(inset_y_ticks)
start = date(2005, 3, 2)
iax.set_xticks([(date(y, m, 2) - start).days for y, m in inset_tick_dates])
iax.set_xticklabels(["2/%d/%02d" % (m, y % 100) for y, m in inset_tick_dates],
                    rotation=45, ha="right", va="top", rotation_mode="anchor")
for s in ["top", "right"]:
    iax.spines[s].set_color("#999999")
for s in ["left", "bottom"]:
    iax.spines[s].set_linewidth(1.3)
iax.tick_params(axis="both", direction="out", length=5, width=1.1, labelsize=10.5)
iax.tick_params(axis="x", pad=4)

fig.text(fx(566), fy(28), "USD/t", ha="left", va="center", fontsize=11.5, fontweight="bold",
         family="DejaVu Sans", zorder=10)
fig.text(fx(1013), fy(33), "White premium on near term in USD/t", ha="center", va="center",
         fontsize=13.7, fontweight="bold", family="DejaVu Sans", zorder=10)

fig.savefig("out.png", dpi=100)
